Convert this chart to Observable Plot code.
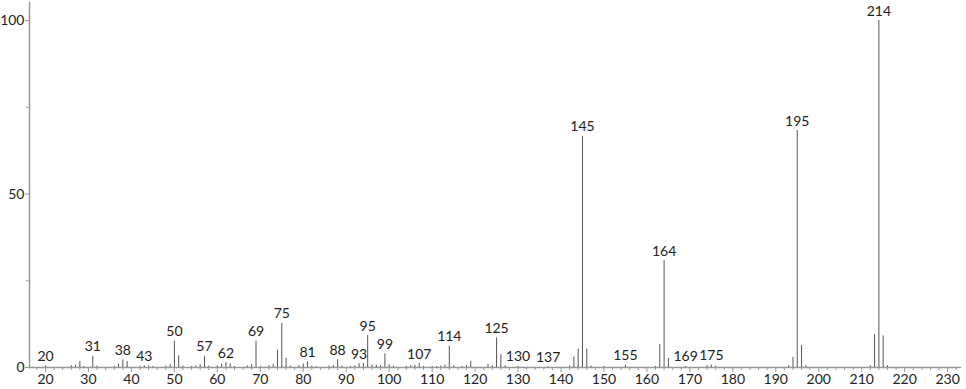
<!DOCTYPE html>
<html>
<head>
<meta charset="utf-8">
<script src="https://cdn.jsdelivr.net/npm/d3@7"></script>
<script src="https://cdn.jsdelivr.net/npm/@observablehq/plot@0.6"></script>
<style>
  html, body { margin: 0; padding: 0; background: #fff; }
  #chart svg { display: block; }
</style>
</head>
<body>
<div id="chart"></div>
<script>
const mz = [20,26,27,28,29,31,32,36,37,38,39,42,43,44,45,48,49,50,51,52,54,55,56,57,58,60,61,62,63,64,67,68,69,70,72,73,74,75,76,77,79,80,81,82,83,86,87,88,89,91,92,93,94,95,96,97,98,99,100,101,104,105,106,107,108,110,111,112,113,114,115,117,118,119,123,124,125,126,127,130,137,142,143,144,145,146,147,150,155,162,163,164,165,169,174,175,176,193,194,195,196,197,212,213,214,215,216];
const intensity = [0.4,0.5,0.6,1.7,0.3,3.2,0.4,0.4,1.0,2.2,1.7,0.3,0.4,0.4,0.3,0.4,0.9,7.6,3.4,0.4,0.3,0.4,0.8,3.2,0.4,0.5,1.0,1.4,1.0,0.3,0.4,0.9,7.6,0.3,0.5,0.9,5.0,12.7,2.6,0.4,0.5,1.0,1.6,0.4,0.3,0.4,0.6,2.2,0.4,0.3,0.5,1.1,1.2,9.2,0.7,0.6,0.5,3.9,0.8,0.4,0.3,0.5,0.6,1.1,0.3,0.3,0.3,0.4,0.7,6.1,0.4,0.3,0.5,1.8,0.9,0.5,8.5,3.7,0.5,0.3,0.2,0.4,3.0,5.3,66.6,5.3,0.4,0.3,0.7,0.3,6.6,30.8,2.6,0.3,0.5,0.7,0.4,0.5,2.9,68.3,6.3,0.5,0.5,9.5,100,9.1,0.5];
const labeledMz = [20,31,38,43,50,57,62,69,75,81,88,93,95,99,107,114,125,130,137,145,155,164,169,175,195,214];
const xMajorTicks = [20,30,40,50,60,70,80,90,100,110,120,130,140,150,160,170,180,190,200,210,220,230];
const yMajorTicks = [0,50,100];
const yMinorTicks = [25,75];

const peaks = mz.map((m, i) => ({mz: m, value: intensity[i]}));
const labels = peaks.filter(p => labeledMz.includes(p.mz));
const xMinorTicks = d3.range(18, 233, 2).filter(t => t % 10 !== 0);

const font = "Lato, 'DejaVu Sans', sans-serif";
const axisColor = "#999";

const chart = Plot.plot({
  width: 966,
  height: 389,
  marginLeft: 29,
  marginRight: 6,
  marginTop: 2,
  marginBottom: 22,
  style: {fontFamily: font, fontSize: "14px", color: "#222", background: "#fff"},
  x: {domain: [16.27, 233.0]},
  y: {domain: [0, 105.2]},
  marks: [
    Plot.frame({anchor: "left", stroke: axisColor, strokeWidth: 1.5}),
    Plot.frame({anchor: "bottom", stroke: axisColor, strokeWidth: 1.5}),
    Plot.axisX({ticks: xMajorTicks, tickSize: 5, tickPadding: 2, stroke: axisColor, fill: "#222", fontSize: 14, label: null}),
    Plot.axisX({ticks: xMinorTicks, tickSize: 3, text: null, stroke: axisColor, label: null}),
    Plot.axisY({ticks: yMajorTicks, tickSize: 4, tickPadding: 1, stroke: axisColor, fill: "#222", fontSize: 14, label: null}),
    Plot.axisY({ticks: yMinorTicks, tickSize: 3, text: null, stroke: axisColor, label: null}),
    Plot.ruleX(peaks, {x: "mz", y1: 0, y2: "value", stroke: "#555", strokeWidth: 1}),
    Plot.text(labels, {x: "mz", y: "value", text: d => String(d.mz), lineAnchor: "bottom", dy: -5, fill: "#222", fontSize: 14})
  ]
});
document.getElementById("chart").appendChild(chart);
</script>
</body>
</html>
